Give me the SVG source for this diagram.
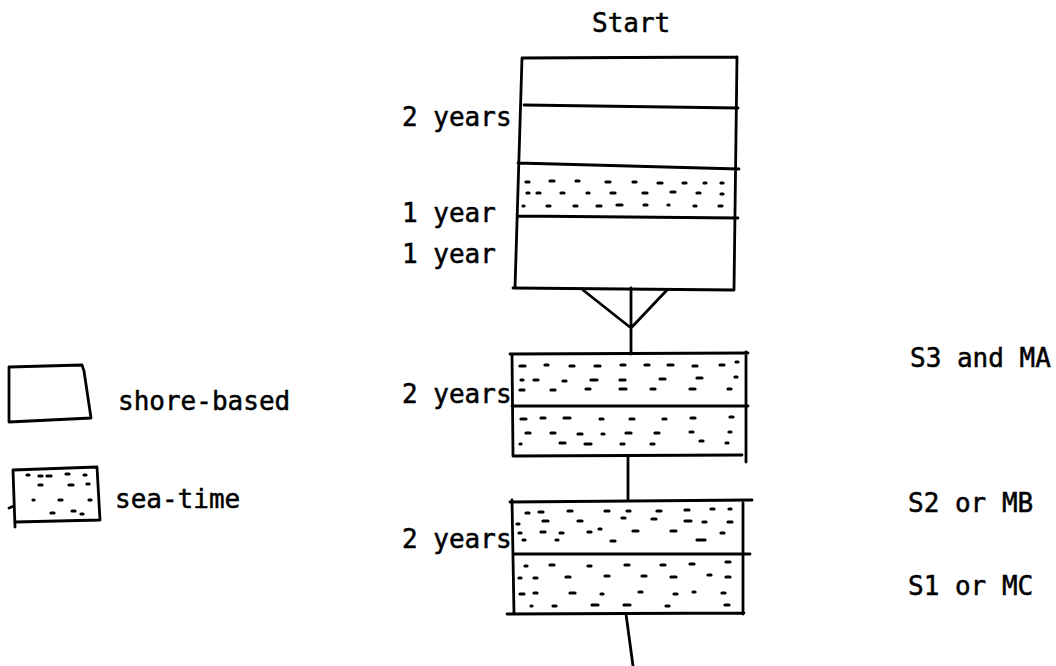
<svg xmlns="http://www.w3.org/2000/svg" width="1056" height="666" viewBox="0 0 1056 666">
<style>
.ln{fill:none;stroke:#000;stroke-width:2.8;stroke-linecap:round;stroke-linejoin:round}
.ds{fill:none;stroke:#000;stroke-width:3.2;stroke-linecap:round}
.t{font-family:"DejaVu Sans Mono","Liberation Mono",monospace;font-size:26px;fill:#000;stroke:#000;stroke-width:0.5}
</style>
<rect width="1056" height="666" fill="#fff"/>
<text class="t" x="592" y="32">Start</text>
<g id="block-top">
<path class="ln" d="M522 58 L737 57 M522 58 L515 288 M737 57 L734 290 M513 288 L734 290 M524 105 L738 108 M518 163 L739 169 M518 216 L738 218"/>
<path class="ds" d="M526 182h3M550 181h4M576 181h3M606 182h4M633 182h3M658 183h4M683 183h3M704 183h2M721 183h2M527 193h2M537 193h3M561 193h3M587 193h2M611 193h4M643 193h4M671 192h4M697 193h3M721 194h2M523 206h1M547 206h3M574 206h3M597 206h4M617 205h5M644 205h3M668 205h1M694 206h2M719 206h3"/>
<text class="t" x="402" y="126">2 years</text>
<text class="t" x="402" y="222">1 year</text>
<text class="t" x="402" y="263">1 year</text>
</g>
<g id="block-mid">
<path class="ln" d="M510 354 L748 353 M512 354 L513 456 M746 352 L746 462 M512 406 L748 406 M513 456 L742 455"/>
<path class="ds" d="M520 366h5M545 365h3M570 366h4M595 366h5M621 365h4M645 365h4M668 365h5M693 366h4M720 365h4M736 362h2M521 380h2M534 380h4M563 381h3M591 380h6M620 380h5M660 379h5M697 378h5M735 377h2M520 390h4M551 390h4M586 389h4M620 389h6M651 389h4M690 389h5M728 389h3M521 419h5M541 418h4M564 418h6M600 419h3M630 419h4M663 419h3M691 418h4M730 417h3M526 433h4M551 433h4M578 434h4M602 434h2M626 433h5M655 433h4M690 432h3M729 432h2M520 444h1M560 443h5M585 444h6M621 444h3M651 444h3M700 441h3M726 443h2"/>
<text class="t" x="402" y="403">2 years</text>
</g>
<g id="block-bottom">
<path class="ln" d="M510 502 L752 500 M512 500 L514 614 M743 503 L743 614 M515 554 L750 554 M507 614 L744 613"/>
<path class="ds" d="M526 513h3M539 512h4M568 511h4M605 511h4M627 511h3M657 511h4M685 510h4M711 509h3M729 509h2M517 524h2M543 521h5M578 521h4M622 518h3M652 519h4M685 521h6M703 522h3M728 522h4M519 533h2M541 532h4M560 533h3M588 532h3M599 529h2M633 531h5M671 531h5M721 533h3M523 540h2M556 540h2M611 541h4M697 540h8M525 566h2M550 565h4M588 566h3M625 565h4M661 565h4M690 564h4M726 562h4M519 578h2M534 578h3M566 577h4M605 576h4M642 576h4M671 577h5M708 575h3M726 577h4M520 594h4M534 593h3M570 593h5M601 594h2M639 592h3M674 594h3M693 592h2M722 593h3M531 606h1M553 606h3M592 605h6M624 605h6M666 606h3M725 605h4"/>
<text class="t" x="402" y="548">2 years</text>
</g>
<g id="connectors">
<path class="ln" d="M583 290 L631 328 L667 290 M631 288 L631 354 M628 456 L628 500 M626 614 L633 666"/>
</g>
<g id="legend-shore">
<path class="ln" d="M9 367 L82 365 L84 371 L91 418 L9 422 Z"/>
<text class="t" x="118" y="410">shore-based</text>
</g>
<g id="legend-sea">
<path class="ln" d="M13 470 L97 467 L100 520 L15 522 M13 470 L15 527 M9 508 L14 506"/>
<path class="ds" d="M27 475h2M39 476h3M47 476h4M66 474h3M84 475h2M39 485h3M69 485h4M87 484h2M33 500h1M59 500h3M89 500h2M51 513h3M72 511h3M81 514h2"/>
<text class="t" x="115" y="508">sea-time</text>
</g>
<g id="right-labels">
<text class="t" x="910" y="367">S3 and MA</text>
<text class="t" x="908" y="512">S2 or MB</text>
<text class="t" x="908" y="595">S1 or MC</text>
</g>
</svg>
